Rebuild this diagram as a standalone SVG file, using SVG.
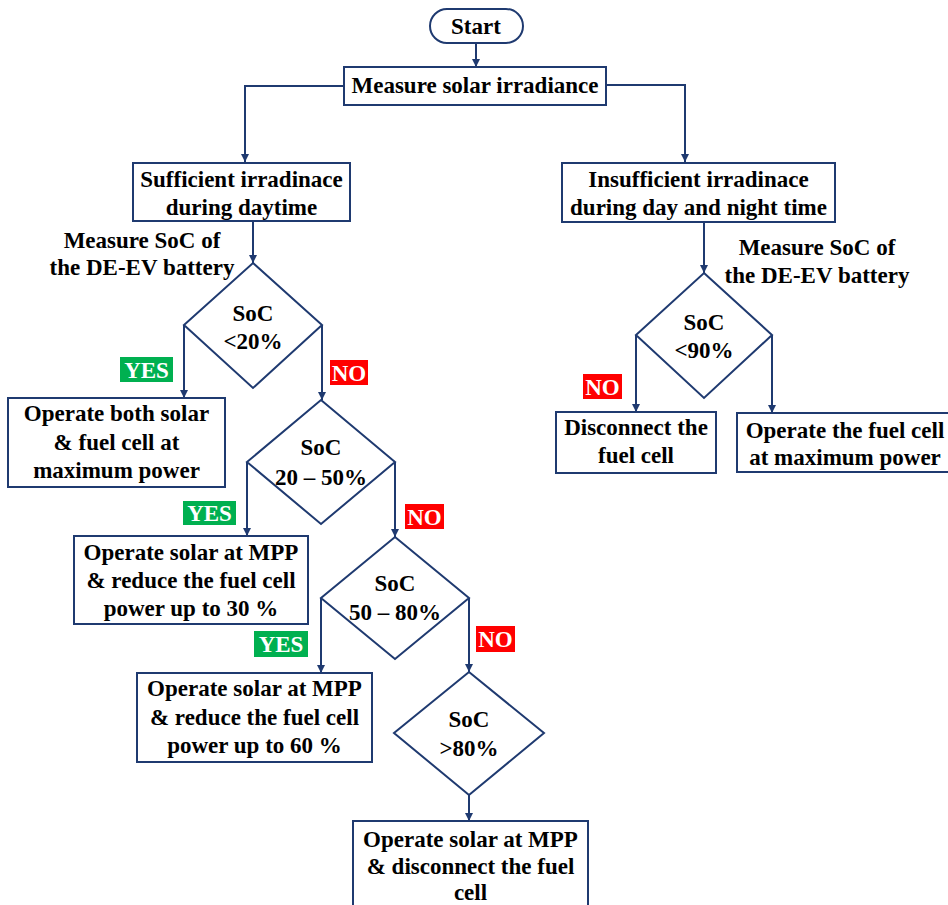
<svg xmlns="http://www.w3.org/2000/svg" width="948" height="905" viewBox="0 0 948 905">
<defs>
<marker id="ah" viewBox="0 0 10 10" refX="10" refY="5" markerWidth="8" markerHeight="8" markerUnits="userSpaceOnUse" orient="auto">
<path d="M0,0 L10,5 L0,10 z" fill="#1f3a70"/>
</marker>
<style>
.box{fill:#fff;stroke:#1f3a70;stroke-width:2}
text{font-family:'Liberation Serif','Times New Roman','DejaVu Serif',serif;font-weight:bold;font-size:23px;text-anchor:middle}
.t{fill:#000}
.lw{fill:#fff}
.yes{fill:#00b050}
.no{fill:#ff0000}
.c{fill:none;stroke:#1f3a70;stroke-width:2;marker-end:url(#ah)}
</style>
</defs>
<rect width="948" height="905" fill="#fff"/>

<g id="connectors">
<path class="c" d="M476,43 V67"/>
<path class="c" d="M344,86 H245 V162"/>
<path class="c" d="M606,85 H685 V162"/>
<path class="c" d="M253,221 V263"/>
<path class="c" d="M184,325 V398"/>
<path class="c" d="M322,325 V400"/>
<path class="c" d="M247,462 V536"/>
<path class="c" d="M395,462 V537"/>
<path class="c" d="M321,598 V673"/>
<path class="c" d="M469,598 V672"/>
<path class="c" d="M469,795 V821"/>
<path class="c" d="M704,222 V273"/>
<path class="c" d="M636,335 V412"/>
<path class="c" d="M772,335 V413"/>
</g>

<g id="start">
<rect class="box" x="430" y="9" width="93" height="34" rx="17"/>
<text class="t" x="476" y="34">Start</text>
</g>

<g id="measure-irradiance">
<rect class="box" x="344" y="67" width="262" height="38"/>
<text class="t" x="475" y="93">Measure solar irradiance</text>
</g>

<g id="sufficient">
<rect class="box" x="133" y="163" width="217" height="58"/>
<text class="t" x="241.5" y="187">Sufficient irradinace</text>
<text class="t" x="241.5" y="215">during daytime</text>
</g>

<g id="measure-soc-left">
<text class="t" x="142" y="248">Measure SoC of</text>
<text class="t" x="142" y="275">the DE-EV battery</text>
</g>

<g id="d1">
<polygon class="box" points="253,263 322,325 253,388 184,325"/>
<text class="t" x="253" y="321">SoC</text>
<text class="t" x="253" y="349">&lt;20%</text>
</g>

<g id="yes1"><rect class="yes" x="120" y="357" width="53" height="25"/><text class="lw" x="146.5" y="378">YES</text></g>
<g id="no1"><rect class="no" x="330" y="360" width="38" height="25"/><text class="lw" x="349" y="381">NO</text></g>

<g id="box1">
<rect class="box" x="8" y="398" width="217" height="89"/>
<text class="t" x="116.5" y="421">Operate both solar</text>
<text class="t" x="116.5" y="450">&amp; fuel cell at</text>
<text class="t" x="116.5" y="478">maximum power</text>
</g>

<g id="d2">
<polygon class="box" points="321,400 395,462 321,524 247,462"/>
<text class="t" x="321" y="455">SoC</text>
<text class="t" x="321" y="485">20 – 50%</text>
</g>

<g id="yes2"><rect class="yes" x="183" y="501" width="53" height="24"/><text class="lw" x="209.5" y="521">YES</text></g>
<g id="no2"><rect class="no" x="405" y="504" width="39" height="25"/><text class="lw" x="424.5" y="525">NO</text></g>

<g id="box3">
<rect class="box" x="74" y="536" width="234" height="88"/>
<text class="t" x="191" y="560">Operate solar at MPP</text>
<text class="t" x="191" y="588">&amp; reduce the fuel cell</text>
<text class="t" x="191" y="616">power up to 30 %</text>
</g>

<g id="d3">
<polygon class="box" points="395,537 469,598 395,659 321,598"/>
<text class="t" x="395" y="591">SoC</text>
<text class="t" x="395" y="620">50 – 80%</text>
</g>

<g id="yes3"><rect class="yes" x="254" y="631" width="54" height="26"/><text class="lw" x="281" y="652">YES</text></g>
<g id="no3"><rect class="no" x="476" y="626" width="39" height="26"/><text class="lw" x="495.5" y="647">NO</text></g>

<g id="box4">
<rect class="box" x="137" y="673" width="235" height="89"/>
<text class="t" x="254.5" y="696">Operate solar at MPP</text>
<text class="t" x="254.5" y="725">&amp; reduce the fuel cell</text>
<text class="t" x="254.5" y="753">power up to 60 %</text>
</g>

<g id="d4">
<polygon class="box" points="469,672 544,733 469,795 394,733"/>
<text class="t" x="469" y="727">SoC</text>
<text class="t" x="469" y="756">&gt;80%</text>
</g>

<g id="box5">
<rect class="box" x="353" y="821" width="235" height="100"/>
<text class="t" x="470.5" y="847">Operate solar at MPP</text>
<text class="t" x="470.5" y="874">&amp; disconnect the fuel</text>
<text class="t" x="470.5" y="900">cell</text>
</g>

<g id="insufficient">
<rect class="box" x="562" y="163" width="273" height="59"/>
<text class="t" x="698.5" y="187">Insufficient irradinace</text>
<text class="t" x="698.5" y="215">during day and night time</text>
</g>

<g id="measure-soc-right">
<text class="t" x="817" y="255">Measure SoC of</text>
<text class="t" x="817" y="283">the DE-EV battery</text>
</g>

<g id="dr">
<polygon class="box" points="704,273 772,335 704,398 636,335"/>
<text class="t" x="704" y="330">SoC</text>
<text class="t" x="704" y="358">&lt;90%</text>
</g>

<g id="nor"><rect class="no" x="583" y="374" width="39" height="25"/><text class="lw" x="602.5" y="395">NO</text></g>

<g id="disconnect">
<rect class="box" x="556" y="412" width="160" height="61"/>
<text class="t" x="636" y="435">Disconnect the</text>
<text class="t" x="636" y="463">fuel cell</text>
</g>

<g id="operate-fc">
<rect class="box" x="737" y="413" width="220" height="59"/>
<text class="t" x="845" y="438">Operate the fuel cell</text>
<text class="t" x="845" y="465">at maximum power</text>
</g>
</svg>
